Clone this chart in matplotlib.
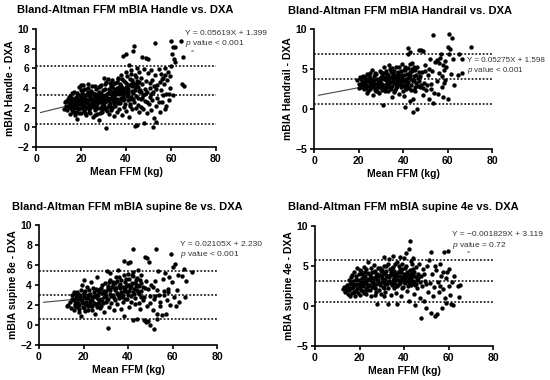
import matplotlib
matplotlib.use("Agg")
import matplotlib.pyplot as plt

plt.rcParams['font.family'] = ['Liberation Sans', 'DejaVu Sans']
plt.rcParams['mathtext.fontset'] = 'custom'
plt.rcParams['mathtext.it'] = 'Liberation Sans:italic'
plt.rcParams['mathtext.rm'] = 'Liberation Sans'

# ---- data (mean FFM kg, difference kg) ----
handle_pts = [
    (12.5,1.9),(12.8,2.6),(13.2,2.7),(13.5,2.2),(14,1.8),(14.2,2.9),(14.5,2.5),(14.8,2.1),(15,3.2),(15.2,1.4),
    (15.5,2.7),(15.8,3.5),(15.6,2.0),(16,2.4),(16.2,3.0),(16.5,1.6),(16.8,2.8),(17,3.6),(17.2,2.2),(17.5,1.3),
    (17.8,3.1),(18,2.5),(18.2,0.9),(18.5,1.9),(18.8,3.3),(19,2.7),(19.2,4.1),(19.5,2.0),(19.8,3.8),(20,1.5),
    (20.2,2.9),(20.5,3.5),(20.8,2.3),(21,4.3),(21.2,1.7),(21.5,3.0),(21.8,2.6),(22,3.9),(22.2,1.3),(22.5,2.1),
    (22.8,3.4),(23,2.8),(23.2,4.0),(23.5,1.9),(23.8,3.1),(24,2.4),(24.2,1.5),(24.5,3.7),(24.8,2.2),(25,4.2),
    (25.2,2.9),(25.5,1.1),(25.8,3.3),(26,2.6),(26.2,1.8),(26.5,3.9),(26.8,2.3),(27,3.0),(27.2,1.4),(27.5,2.7),
    (27.8,4.1),(28,0.8),(28.2,3.5),(28.5,2.0),(28.8,2.9),(29,4.3),(29.2,1.6),(29.5,3.2),(29.8,2.4),(30,3.8),
    (30.2,5.0),(30.5,1.9),(30.8,2.6),(31,-0.1),(31.2,4.6),(31.5,3.4),(31.8,2.1),(32,3.0),(32.2,4.9),(32.5,1.4),
    (32.8,3.7),(33,2.5),(33.2,4.2),(33.5,1.8),(33.8,3.3),(34,4.8),(34.2,2.8),(34.5,1.2),(34.8,3.9),(35,4.5),
    (35.2,2.2),(35.5,3.6),(35.8,1.6),(36,4.0),(36.2,2.9),(36.5,5.0),(36.8,3.4),(37,1.9),(37.2,4.4),(37.5,2.5),
    (37.8,3.8),(38,5.3),(38.2,1.3),(38.5,3.1),(38.8,7.3),(39,4.7),(39.2,2.1),(39.5,3.6),(39.8,7.5),(40,5.6),
    (40.2,1.7),(40.5,4.1),(40.8,2.8),(41,3.4),(41.2,6.3),(41.5,1.1),(41.8,4.9),(42,2.4),(42.2,5.8),(42.5,3.7),
    (42.8,1.9),(43,7.8),(43.2,4.5),(43.5,8.3),(43.8,2.6),(44,5.3),(44.2,0.1),(44.5,3.2),(44.8,6.0),(45,0.2),
    (45.2,4.1),(45.5,2.3),(45.8,5.6),(46,1.6),(46.2,3.8),(46.5,5.0),(46.8,2.9),(47,7.2),(47.2,4.4),(47.5,1.9),
    (47.8,3.3),(48,5.9),(48.2,0.4),(48.5,2.7),(48.8,4.7),(49,7.1),(49.2,3.6),(49.5,1.5),(49.8,5.5),(50,7.0),
    (50.2,2.4),(50.5,4.0),(50.8,3.1),(51,5.8),(51.2,1.8),(51.5,4.8),(51.8,2.8),(52,0.0),(52.2,3.6),(52.5,1.0),
    (52.8,5.3),(53,8.6),(53.2,2.2),(53.5,0.5),(53.8,4.3),(54,3.0),(54.5,5.9),(55,1.6),(55.5,3.8),(56,2.6),
    (56.5,5.0),(57,4.4),(57.5,1.9),(58,3.4),(58.5,5.6),(59,2.8),(59.5,4.0),(60,8.8),(60,6.2),(60.5,7.5),
    (61,8.2),(61,3.3),(61.5,7.0),(62,8.2),(61.8,6.7),(64.5,8.8),(65,4.4),(65.5,7.2),(66,4.2),(57.5,6.0),
    (58,2.2),(56,4.9),(59,3.4),
    (16.5,2.3),(17.3,2.6),(18.1,2.0),(18.7,2.9),(19.4,2.4),(19.9,3.2),(20.6,2.7),(21.3,2.2),(21.9,3.3),(22.6,2.5),
    (23.3,3.6),(23.9,2.0),(24.6,2.8),(25.3,3.5),(25.9,2.1),(26.6,3.1),(27.3,2.4),(27.9,3.6),(28.6,2.6),(29.3,1.9),
    (29.9,3.1),(30.6,3.9),(31.3,2.7),(31.9,3.5),(32.6,2.3),(33.3,3.0),(33.9,4.1),(34.6,2.6),(35.3,3.3),(35.9,4.6),
    (36.6,2.5),(37.3,3.5),(37.9,4.2),(38.6,2.8),(39.3,3.9),(39.9,4.5),(40.6,3.2),(41.3,4.3),(41.9,2.9),(42.6,4.8),
    (43.3,3.5),(43.9,4.1),(44.6,5.1),(45.3,3.0),(46,4.6),
    (15.2,2.4),(16.1,1.8),(17.6,1.6),(18.4,3.5),(19.1,1.5),(20.3,2.0),(21.6,1.5),(22.3,2.9),(23.6,1.6),(24.3,3.0),
    (25.6,2.4),(26.3,1.3),(27.6,3.3),(28.3,1.5),(29.6,2.7),(30.3,2.2),(31.6,1.7),(32.3,2.8),(33.6,2.0),(34.3,3.6),
    (35.6,2.7),(36.3,3.8),(37.6,3.0),(38.3,4.0),(39.6,2.4),(40.3,3.6),(41.6,2.2),(42.3,3.1),(43.6,4.4),(44.3,2.0),
    (45.6,3.7),(46.6,2.1),(47.3,3.0),(48.6,3.9),(49.3,2.6),(50.6,4.5),(51.3,3.4),(52.6,4.2),(54.6,2.6),(55.3,4.6),
    (56.6,3.3),(57.2,5.3),(58.3,4.8),(59.6,5.2),(53.4,3.9),(55.8,5.4),
    (14.6,3.1),(15.9,2.9),(17.0,2.0),(18.3,2.3),(19.7,2.8),(20.9,3.8),(22.1,2.0),(23.4,2.3),(24.1,3.4),(25.4,2.6),
    (26.9,2.8),(28.1,3.1),(29.4,2.2),(30.9,3.3),(32.4,3.9),(33.1,2.2),(34.9,2.4),(36.9,4.1),(38.9,3.4),(40.9,3.9),
    (42.9,4.2),(44.9,4.4),(46.9,3.6),(48.4,3.4),(17.9,2.7),(20.1,2.5),(21.1,2.9),(23.0,3.3),(24.9,2.5),(26.1,3.4),
    (27.1,2.0),(28.9,3.5),(30.1,2.8),(31.1,3.1),(33.0,3.5),(34.1,3.1),(35.1,2.9),(36.1,3.5),(37.1,2.8),(38.1,3.6),
    (39.1,2.9),(40.1,4.1),(41.1,3.6),(42.1,4.4),(43.1,2.9),(44.1,3.8),(45.1,4.7),(36.4,4.9),(38.4,4.9),(40.4,5.2),
    (42.4,5.4),(34.4,4.4),(32.9,4.5),(30.9,4.4),(28.4,4.2),(26.4,4.2),(22.9,4.4),(19.8,4.3),
]

handrail_pts = [
    (19.5,3.6),(20,3.1),(20.5,4.0),(21,2.8),(21.5,3.4),(22,4.1),(22.5,2.5),(23,3.7),(23.5,3.0),(24,2.2),
    (24.5,4.2),(25,3.3),(25.5,2.7),(26,4.9),(26.5,1.8),(27,3.6),(27.5,2.4),(28,4.4),(28.5,3.0),(29,2.0),
    (29.5,4.7),(30,3.3),(30.5,2.6),(31,0.5),(31.3,5.2),(31.6,3.8),(32,2.2),(32.5,4.5),(33,3.1),(33.5,5.5),
    (34,2.7),(34.5,4.0),(35,1.5),(35.5,3.5),(36,4.8),(36.5,2.4),(37,5.3),(37.5,3.2),(38,1.9),(38.5,4.3),
    (39,2.8),(39.5,5.6),(40,3.6),(40.5,1.6),(40.8,0.2),(41,4.9),(41.5,2.5),(42,7.6),(42.3,6.8),(42.6,4.0),
    (43,7.1),(43.2,1.0),(43.5,3.0),(44,5.8),(44.3,1.3),(44.5,-0.4),(45,3.6),(45.5,2.2),(46,0.0),(46.3,5.2),
    (46.7,3.9),(47,7.4),(47.4,2.7),(48,7.4),(48.3,4.6),(48.7,1.8),(49,7.2),(49.4,3.3),(50,5.5),(50.4,2.4),
    (51,4.2),(51.4,1.2),(52,6.2),(52.4,3.1),(53,4.8),(53.5,9.2),(53.5,0.7),(54,2.0),(54.5,5.9),(55,3.5),
    (55.5,1.9),(56,4.5),(56.5,6.3),(57,6.9),(57.3,2.8),(57.7,5.5),(58,1.5),(58.4,4.9),(58.8,6.0),(59,3.6),
    (59.4,5.3),(60,7.7),(60.2,1.3),(60.5,9.4),(60.7,6.9),(61,7.5),(61.5,4.4),(62,8.8),(62.2,6.2),(63,3.0),
    (64.5,4.2),(65,6.9),(66.5,6.2),(66.5,4.5),(70.3,7.7),(56,5.7),(57.5,4.1),(55.3,6.1),(58.2,3.3),
    (21.2,3.7),(22.2,3.2),(23.2,2.6),(24.2,3.5),(25.2,3.9),(26.2,2.9),(27.2,3.1),(28.2,3.8),(29.2,2.7),(30.2,3.9),
    (31.2,3.0),(32.2,3.6),(33.2,4.2),(34.2,3.4),(35.2,2.9),(36.2,3.9),(37.2,3.5),(38.2,4.2),(39.2,3.7),(40.2,4.3),
    (41.2,3.3),(42.2,3.9),(43.2,4.6),(44.2,3.5),(45.2,4.9),
    (22.7,4.0),(23.7,2.0),(24.7,2.9),(25.7,3.5),(26.7,4.1),(27.7,2.2),(28.7,3.4),(29.7,3.9),(30.7,4.2),(31.7,2.6),
    (32.7,3.3),(33.7,3.9),(34.7,4.6),(35.7,4.1),(36.7,3.1),(37.7,4.6),(38.7,3.1),(39.7,3.9),(40.7,2.7),(41.7,4.4),
    (42.7,2.6),(43.7,3.7),(44.7,2.4),(45.7,4.3),(46.5,2.9),
    (30.4,2.4),(33.4,2.3),(35.4,4.4),(36.9,2.6),(37.9,3.8),(38.9,3.5),(39.1,4.8),(40.1,3.0),(41.4,3.8),(42.4,5.1),
    (43.9,5.0),(45.9,3.2),(47.6,4.1),(48.9,2.6),(49.9,4.7),(50.9,3.0),(51.7,5.0),(52.7,2.5),(34.0,5.0),(36.0,2.1),
    (38.0,5.2),(30.0,4.6),(28.0,2.6),(26.0,3.6),(24.0,3.8),(22.0,2.7),
    (20.2,2.6),(21.6,3.0),(22.9,3.5),(23.9,4.4),(24.9,2.5),(26.4,3.3),(27.4,4.5),(28.4,2.3),(29.4,3.5),(30.6,3.0),
    (31.9,4.0),(32.9,2.8),(33.9,3.4),(34.9,3.9),(35.9,3.2),(36.9,4.3),(37.4,2.9),(38.4,3.3),(39.4,4.3),(40.4,3.5),
    (41.9,3.0),(42.9,4.3),(43.4,2.4),(44.9,4.1),(45.4,2.8),(46.9,4.6),(35.1,5.1),(37.0,4.0),(39.9,2.2),(41.0,5.3),
    (44.0,4.8),(33.0,3.7),(31.0,4.5),(29.0,3.1),(27.0,2.8),(25.0,4.5),(23.0,3.1),(36.4,3.6),(38.6,4.0),(40.6,4.9),
    (42.0,3.4),(34.4,2.5),(32.4,4.8),(43.0,5.6),(45.0,5.3),(47.0,3.5),(48.0,3.0),
]

supine8_pts = [
    (12.5,1.9),(13,2.0),(14,2.3),(14.5,1.7),(15,3.0),(15.2,2.5),(15.5,1.5),(15.8,3.3),(16,2.1),(16.5,2.8),
    (17,1.8),(17.5,3.1),(18,1.3),(18.5,2.6),(19,0.9),(19.3,4.0),(19.6,2.2),(20,4.5),(20.3,3.2),(20.6,1.4),
    (21,2.7),(21.5,3.8),(22,1.9),(22.5,3.0),(23,2.4),(23.5,4.3),(24,1.5),(24.5,2.9),(25,1.1),(25.5,3.6),
    (26,4.8),(26.5,2.2),(27,3.3),(27.5,1.7),(28,2.6),(28.5,4.0),(29,1.3),(29.5,3.1),(30,2.3),(30.5,5.4),
    (30.8,-0.3),(31,3.7),(31.5,1.8),(32,5.2),(32.5,2.9),(33,4.3),(33.5,1.5),(34,3.5),(34.5,4.8),(35,2.1),
    (35.5,5.5),(36,3.0),(36.5,4.1),(37,1.6),(37.5,3.8),(38,6.4),(38.3,0.9),(38.6,2.6),(39,4.6),(39.5,3.3),
    (40,6.2),(40.3,1.8),(40.6,4.0),(41,6.3),(41.3,2.9),(41.6,5.0),(42,0.5),(42.3,7.6),(42.6,3.6),(43,2.1),
    (43.5,4.5),(44,0.6),(44.5,5.5),(45,3.1),(45.5,1.6),(46,4.2),(46.5,2.5),(47,0.5),(47.5,6.8),(47.8,3.7),
    (48,0.3),(48.5,6.7),(48.7,1.9),(49,0.4),(49.5,6.3),(49.7,2.9),(50,0.0),(50.5,4.0),(51,1.5),(51.5,2.6),
    (51.7,-0.4),(52,4.4),(52.5,7.6),(52.8,1.1),(53,0.6),(53.5,5.4),(54,3.0),(54.5,1.9),(55,1.0),(55.5,4.6),
    (56,3.4),(56.5,5.2),(57,1.1),(57.5,2.5),(58,3.6),(58.5,4.8),(59,2.0),(59.2,7.1),(59.5,4.3),(60,5.8),
    (60.5,2.8),(61,6.1),(61.5,1.9),(62,3.5),(62.5,5.0),(63,2.3),(64,4.9),(65,5.6),(65.5,2.8),(66,4.4),
    (68.9,5.3),(56,3.0),(57.8,3.3),
    (15.9,2.6),(16.8,2.3),(17.7,2.6),(18.6,2.9),(19.5,2.5),(20.4,2.8),(21.3,2.3),(22.2,2.7),(23.1,3.1),(24,2.5),
    (24.9,3.3),(25.8,2.8),(26.7,3.0),(27.6,2.5),(28.5,3.2),(29.4,2.8),(30.3,3.4),(31.2,2.6),(32.1,3.5),(33,3.0),
    (33.9,3.7),(34.8,3.2),(35.7,3.9),(36.6,3.3),(37.5,3.0),(38.4,3.6),(39.3,4.0),(40.2,3.4),(41.1,3.9),(42,3.3),
    (42.9,4.2),(43.8,3.5),(44.7,3.9),(45.6,3.4),(46.5,3.8),
    (16.3,1.9),(17.2,3.3),(18.1,2.0),(19,3.5),(19.9,1.8),(20.8,3.4),(21.7,2.0),(22.6,3.5),(23.5,1.9),(24.4,3.7),
    (25.3,2.1),(26.2,3.5),(27.1,2.1),(28,3.7),(28.9,2.2),(29.8,4.2),(30.7,2.5),(31.6,4.3),(32.5,2.2),(33.4,4.1),
    (34.3,2.5),(35.2,4.4),(36.1,2.7),(37,4.5),(37.9,2.3),(38.8,4.3),(39.7,2.6),(40.6,4.6),(41.5,2.3),(42.4,4.9),
    (43.3,2.7),(44.2,4.7),(45.1,2.2),(46,5.0),(47,2.8),(48,4.4),(49,3.6),(50,2.2),(51,3.8),(52,2.9),
    (53,3.5),(54.5,2.3),
    (14.8,2.6),(16.0,3.1),(17.4,2.2),(18.3,3.0),(19.2,2.3),(20.1,3.1),(21.0,2.1),(21.9,3.0),(22.8,2.2),(23.7,2.8),
    (24.6,2.2),(25.5,3.0),(26.4,2.6),(27.3,3.6),(28.2,2.4),(29.1,3.4),(30.0,2.9),(30.9,3.9),(31.8,3.1),(32.7,3.8),
    (33.6,2.7),(34.5,3.7),(35.4,3.0),(36.3,3.7),(37.2,2.8),(38.1,3.4),(39.0,3.9),(39.9,3.0),(40.8,3.7),(41.7,4.2),
    (42.6,3.1),(43.5,3.9),(44.4,3.3),(45.3,4.5),(36.0,4.8),(38.0,5.0),(40.0,5.1),(34.0,4.2),(32.0,4.5),(42.0,5.3),
    (44.0,4.0),(46.0,2.8),(18.0,1.6),(20.0,1.7),(22.0,1.5),(24.0,1.9),(26.0,1.8),(28.0,1.9),
]

supine4_pts = [
    (12.5,2.1),(13,2.4),(13.5,1.8),(14,2.0),(14.5,2.6),(15,1.5),(15.2,3.2),(15.5,1.2),(15.8,2.3),(16,3.6),
    (16.5,1.6),(17,2.8),(17.5,4.2),(18,1.9),(18.5,3.4),(19,4.7),(19.5,2.2),(20,1.4),(20.5,3.0),(21,4.0),
    (21.5,2.5),(22,1.6),(22.5,3.7),(23,4.6),(23.5,2.0),(24,5.5),(24.5,3.2),(25,1.2),(25.5,4.3),(26,2.6),
    (26.5,5.1),(27,3.5),(27.5,1.8),(28,0.3),(28.3,4.8),(28.6,2.9),(29,3.9),(29.5,1.5),(30,4.5),(30.5,2.4),
    (31,6.1),(31.3,3.4),(31.6,1.8),(32,5.0),(32.5,2.7),(33,0.3),(33.2,5.9),(33.5,3.9),(34,1.4),(34.5,4.8),
    (35,6.2),(35.3,2.3),(35.6,3.5),(36,5.3),(36.5,1.6),(37,0.3),(37.3,4.3),(37.6,2.8),(38,6.1),(38.3,3.7),
    (38.6,1.2),(39,5.2),(39.5,2.4),(40,6.0),(40.3,3.5),(40.6,4.7),(41,6.6),(41.3,1.9),(41.6,3.1),(42,7.1),
    (42.3,0.6),(42.6,4.5),(42.8,8.1),(43,2.6),(43.5,5.3),(44,6.0),(44.3,1.5),(44.6,3.7),(45,0.1),(45.3,4.9),
    (45.6,2.2),(46,3.3),(46.5,5.2),(47,1.0),(47.5,-1.5),(47.8,3.8),(48,2.5),(48.5,4.6),(49,0.6),(49.5,3.1),
    (50,-0.3),(50.3,5.0),(50.6,1.8),(51,5.7),(51.5,2.9),(52,-0.9),(52.2,6.8),(52.5,4.0),(53,1.3),(53.5,2.4),
    (54,-1.2),(54.5,4.5),(55,-1.0),(55.3,3.0),(55.6,1.7),(56,2.5),(56.5,3.8),(57,-0.2),(57.3,2.1),(57.6,4.2),
    (58,6.8),(58.3,1.0),(58.6,3.5),(59,0.4),(59.3,4.3),(59.6,6.9),(60,4.6),(60.3,2.5),(60.6,1.4),(61,0.2),
    (61.5,3.0),(62,0.1),(62.5,3.7),(64,2.5),(64.5,1.1),(65,2.6),(56.3,5.2),(53.7,5.0),
    (15.6,2.7),(16.4,2.2),(17.2,3.1),(18,2.6),(18.8,2.1),(19.6,3.3),(20.4,2.7),(21.2,3.5),(22,2.9),(22.8,2.3),
    (23.6,3.4),(24.4,2.6),(25.2,3.6),(26,3.0),(26.8,2.2),(27.6,3.8),(28.4,3.2),(29.2,2.6),(30,3.5),(30.8,4.1),
    (31.6,2.8),(32.4,3.7),(33.2,3.1),(34,4.2),(34.8,3.0),(35.6,4.4),(36.4,3.3),(37.2,3.8),(38,2.9),(38.8,4.2),
    (39.6,3.6),(40.4,2.9),(41.2,4.3),(42,3.5),(42.8,3.0),(43.6,4.1),(44.4,2.9),(45.2,3.6),
    (16.8,3.9),(17.6,1.7),(18.4,3.8),(19.2,1.6),(20,2.4),(20.8,4.4),(21.6,1.9),(22.4,4.3),(23.2,2.8),(24,4.1),
    (24.8,2.0),(25.6,2.4),(26.4,4.3),(27.2,2.7),(28,4.0),(28.8,2.0),(29.6,4.4),(30.4,3.0),(31.2,2.2),(32,4.4),
    (32.8,2.2),(33.6,4.6),(34.4,2.6),(35.2,3.3),(36,4.0),(36.8,2.5),(37.6,5.0),(38.4,3.3),(39.2,2.3),(40,4.0),
    (40.8,3.8),(41.6,2.5),(42.4,4.0),(43.2,3.4),(44,4.6),(44.8,2.6),(46.4,4.0),(47.2,3.0),(49,4.0),(50,2.8),
    (14.2,2.4),(15.3,2.0),(16.2,3.0),(17.0,2.4),(18.2,3.2),(19.0,2.8),(19.8,4.0),(20.6,2.0),(21.4,3.0),(22.2,3.5),
    (23.0,3.1),(23.8,2.5),(24.6,3.9),(25.4,3.0),(26.2,3.5),(27.0,2.3),(27.8,3.3),(28.6,3.8),(29.4,2.9),(30.2,3.9),
    (31.0,3.2),(31.8,3.9),(32.6,3.0),(33.4,3.6),(34.2,2.9),(35.0,3.9),(35.8,2.7),(36.6,3.7),(37.4,3.2),(38.2,4.6),
    (39.0,3.4),(39.8,3.0),(40.6,3.3),(41.4,4.0),(42.2,2.9),(43.0,3.8),(43.8,3.1),(44.6,4.2),(45.4,2.8),(46.2,3.5),
    (25.0,4.8),(27.0,4.4),(29.0,4.7),(31.0,5.0),(33.0,5.2),(35.0,4.9),(37.0,5.5),(39.0,4.6),(41.0,5.0),(43.0,5.6),
    (22.0,4.9),(20.0,4.5),(18.0,1.3),(23.0,1.5),(27.0,1.4),(31.0,1.3),
]

titles = ["Bland-Altman FFM mBIA Handle vs. DXA", "Bland-Altman FFM mBIA Handrail vs. DXA",
          "Bland-Altman FFM mBIA supine 8e vs. DXA", "Bland-Altman FFM mBIA supine 4e vs. DXA"]
ylabels = ["mBIA Handle - DXA", "mBIA Handrail - DXA", "mBIA supine 8e - DXA", "mBIA supine 4e - DXA"]
points = [handle_pts, handrail_pts, supine8_pts, supine4_pts]
bias = [3.3, 3.75, 2.98, 3.1]
loa_upper = [6.24, 6.9, 5.35, 5.7]
loa_lower = [0.34, 0.67, 0.64, 0.46]
slopes = [0.05619, 0.05275, 0.02105, -0.001829]
intercepts = [1.399, 1.598, 2.230, 3.119]
eq_text = ["Y = 0.05619X + 1.399", "Y = 0.05275X + 1.598", "Y = 0.02105X + 2.230", "Y = \u22120.001829X + 3.119"]
p_text = [r"$\it{p}$ value < 0.001", r"$\it{p}$ value < 0.001", r"$\it{p}$ value < 0.001", r"$\it{p}$ value = 0.72"]
ylims = [(-2, 10), (-5, 10), (-2, 10), (-5, 10)]
yticks = [[-2, 0, 2, 4, 6, 8, 10], [-5, 0, 5, 10], [-2, 0, 2, 4, 6, 8, 10], [-5, 0, 5, 10]]

# layout (figure fractions), text positions in data coords
axes_rects = [[0.0655, 0.613, 0.327, 0.3105], [0.571, 0.608, 0.324, 0.316],
              [0.0709, 0.092, 0.324, 0.316], [0.5727, 0.0895, 0.324, 0.316]]
title_pos = [(17, 10), (288, 11), (12, 207), (288, 207)]
eq_pos = [(66.2, 9.56, 8.5), (68.8, 6.0, 4.75), (63.2, 8.0, 7.05), (61.5, 8.9, 7.5)]
eq_mark = [(69.6, 7.7), None, None, (68.9, 6.67)]
show_fit = [True, True, True, False]

fig = plt.figure(figsize=(5.5, 3.8), dpi=100)

for i in range(4):
    ax = fig.add_axes(axes_rects[i])
    xs = [p[0] for p in points[i]]
    ys = [p[1] for p in points[i]]
    ax.scatter(xs, ys, s=10, color='black', linewidths=0, zorder=3)
    if show_fit[i]:
        # fit line is only visible left of the cloud; drawn up to the first points
        x0, x1 = 2, min(xs) + 3
        ax.plot([x0, x1], [slopes[i] * x0 + intercepts[i], slopes[i] * x1 + intercepts[i]],
                color='#444444', lw=0.8, zorder=2)
    for yv in (bias[i], loa_upper[i], loa_lower[i]):
        ax.axhline(yv, color='black', ls=(0, (1.2, 1.2)), lw=1.1, zorder=1)

    ax.set_xlim(0, 80)
    ax.set_ylim(*ylims[i])
    ax.set_xticks([0, 20, 40, 60, 80])
    ax.set_yticks(yticks[i])
    for s in ('top', 'right'):
        ax.spines[s].set_visible(False)
    for s in ('left', 'bottom'):
        ax.spines[s].set_linewidth(1.2)
    ax.tick_params(direction='out', length=3, width=1.2, labelsize=7.5, pad=2)
    for lab in ax.get_xticklabels() + ax.get_yticklabels():
        lab.set_fontweight('bold')
    ax.set_xlabel("Mean FFM (kg)", fontsize=7.5, fontweight='bold', labelpad=2)
    ax.set_ylabel(ylabels[i], fontsize=7.5, fontweight='bold', labelpad=2)

    ex, ey, py = eq_pos[i]
    fs = 5.8 if i == 1 else 6.0
    ax.text(ex, ey, eq_text[i], fontsize=fs, color='#333333', va='center', ha='left', clip_on=False)
    ax.text(ex, py, p_text[i], fontsize=fs, color='#333333', va='center', ha='left', clip_on=False)
    if eq_mark[i] is not None:
        ax.text(eq_mark[i][0], eq_mark[i][1], "=", fontsize=4, color='#333333', ha='center', va='center')

    tx, ty = title_pos[i]
    fig.text(tx / 550, 1 - ty / 380, titles[i], fontsize=8, fontweight='bold', ha='left', va='center')

fig.savefig("out.png", dpi=100)
